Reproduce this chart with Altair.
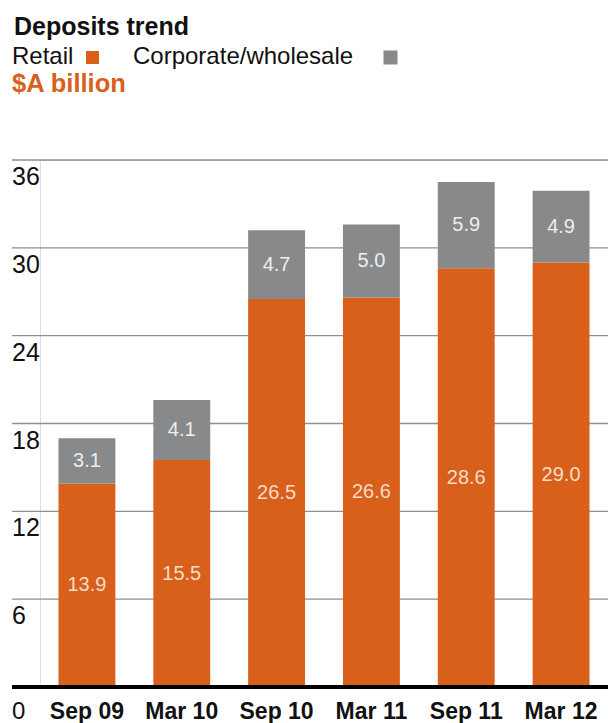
import altair as alt
import pandas as pd

periods = ["Sep 09", "Mar 10", "Sep 10", "Mar 11", "Sep 11", "Mar 12"]
retail = [13.9, 15.5, 26.5, 26.6, 28.6, 29.0]
corporate = [3.1, 4.1, 4.7, 5.0, 5.9, 4.9]
series = ["Retail", "Corporate/wholesale"]
colors = ["#D8601B", "#88898B"]
label_colors = ["#F7DCC8", "#EEEEEE"]
y_ticks = [6, 12, 18, 24, 30, 36]

FONT = "Liberation Sans"
W, H = 568, 527

rows = []
for p, r, c in zip(periods, retail, corporate):
    rows.append({"period": p, "series": series[0], "value": r, "start": 0.0, "end": r,
                 "mid": r / 2, "tc": label_colors[0]})
    rows.append({"period": p, "series": series[1], "value": c, "start": r, "end": r + c,
                 "mid": r + c / 2, "tc": label_colors[1]})
df = pd.DataFrame(rows)
ticks_df = pd.DataFrame({"v": y_ticks})
zero_df = pd.DataFrame({"v": [0]})

yscale = alt.Scale(domain=[0, 36], nice=False, zero=True)
xenc = alt.X("period:N", sort=periods,
             scale=alt.Scale(paddingInner=0.4, paddingOuter=0.195),
             axis=alt.Axis(title=None, ticks=False, domain=False, grid=False,
                           labelFontSize=23, labelFontWeight="bold", labelColor="#111111",
                           labelPadding=13, labelFont=FONT, labelAngle=0))

grid = alt.Chart(ticks_df).mark_rule(color="#8E8E8E", strokeWidth=1.4).encode(
    y=alt.Y("v:Q", scale=yscale, axis=None),
    x=alt.value(-28), x2=alt.value(W))

bars = alt.Chart(df).mark_bar().encode(
    x=xenc,
    y=alt.Y("start:Q", scale=yscale, axis=None),
    y2="end:Q",
    color=alt.Color("series:N", scale=alt.Scale(domain=series, range=colors), legend=None))

vals = alt.Chart(df).mark_text(fontSize=20, font=FONT, baseline="middle").encode(
    x=alt.X("period:N", sort=periods),
    y=alt.Y("mid:Q", scale=yscale, axis=None),
    text=alt.Text("value:Q", format=".1f"),
    color=alt.Color("tc:N", scale=None))

base = alt.Chart(zero_df).mark_rule(color="#000000", strokeWidth=4).encode(
    y=alt.Y("v:Q", scale=yscale, axis=None),
    x=alt.value(-28), x2=alt.value(W))

ylabels = alt.Chart(ticks_df).mark_text(fontSize=25, font=FONT, align="left", baseline="top",
                                        dy=5, color="#111111").encode(
    y=alt.Y("v:Q", scale=yscale, axis=None),
    x=alt.value(-28),
    text=alt.Text("v:Q"))

zlabel = alt.Chart(zero_df).mark_text(fontSize=24, font=FONT, align="left", baseline="top",
                                      dy=13, color="#111111").encode(
    y=alt.Y("v:Q", scale=yscale, axis=None),
    x=alt.value(-28),
    text=alt.Text("v:Q"))

title = alt.Chart(pd.DataFrame({"t": ["Deposits trend"]})).mark_text(
    fontSize=25, fontWeight="bold", font=FONT, align="left",
    baseline="alphabetic", color="#111111").encode(
    x=alt.value(-26), y=alt.value(-125), text="t:N")

leg1 = alt.Chart(pd.DataFrame({"t": [series[0]]})).mark_text(
    fontSize=24, font=FONT, align="left", baseline="alphabetic", color="#111111").encode(
    x=alt.value(-28), y=alt.value(-96), text="t:N")
leg2 = alt.Chart(pd.DataFrame({"t": [series[1]]})).mark_text(
    fontSize=24, font=FONT, align="left", baseline="alphabetic", color="#111111").encode(
    x=alt.value(93), y=alt.value(-96), text="t:N")
sq1 = alt.Chart(pd.DataFrame({"t": [series[0]]})).mark_square(size=169, opacity=1, color=colors[0]).encode(
    x=alt.value(52.5), y=alt.value(-102.5))
sq2 = alt.Chart(pd.DataFrame({"t": [series[1]]})).mark_square(size=196, opacity=1, color=colors[1]).encode(
    x=alt.value(350.5), y=alt.value(-102.5))
unit = alt.Chart(pd.DataFrame({"t": ["$A billion"]})).mark_text(
    fontSize=25.5, fontWeight="bold", font=FONT, align="left", baseline="alphabetic",
    color=colors[0]).encode(x=alt.value(-28), y=alt.value(-68), text="t:N")

chart = alt.layer(grid, bars, vals, base, ylabels, zlabel, title, leg1, leg2, sq1, sq2, unit).properties(
    width=W, height=H,
    padding={"left": 40, "top": 160, "right": 0, "bottom": 36},
    autosize="none",
).configure_view(stroke=None).configure(font=FONT)

chart.save("out.html", embed_options={"renderer": "svg", "actions": False})
